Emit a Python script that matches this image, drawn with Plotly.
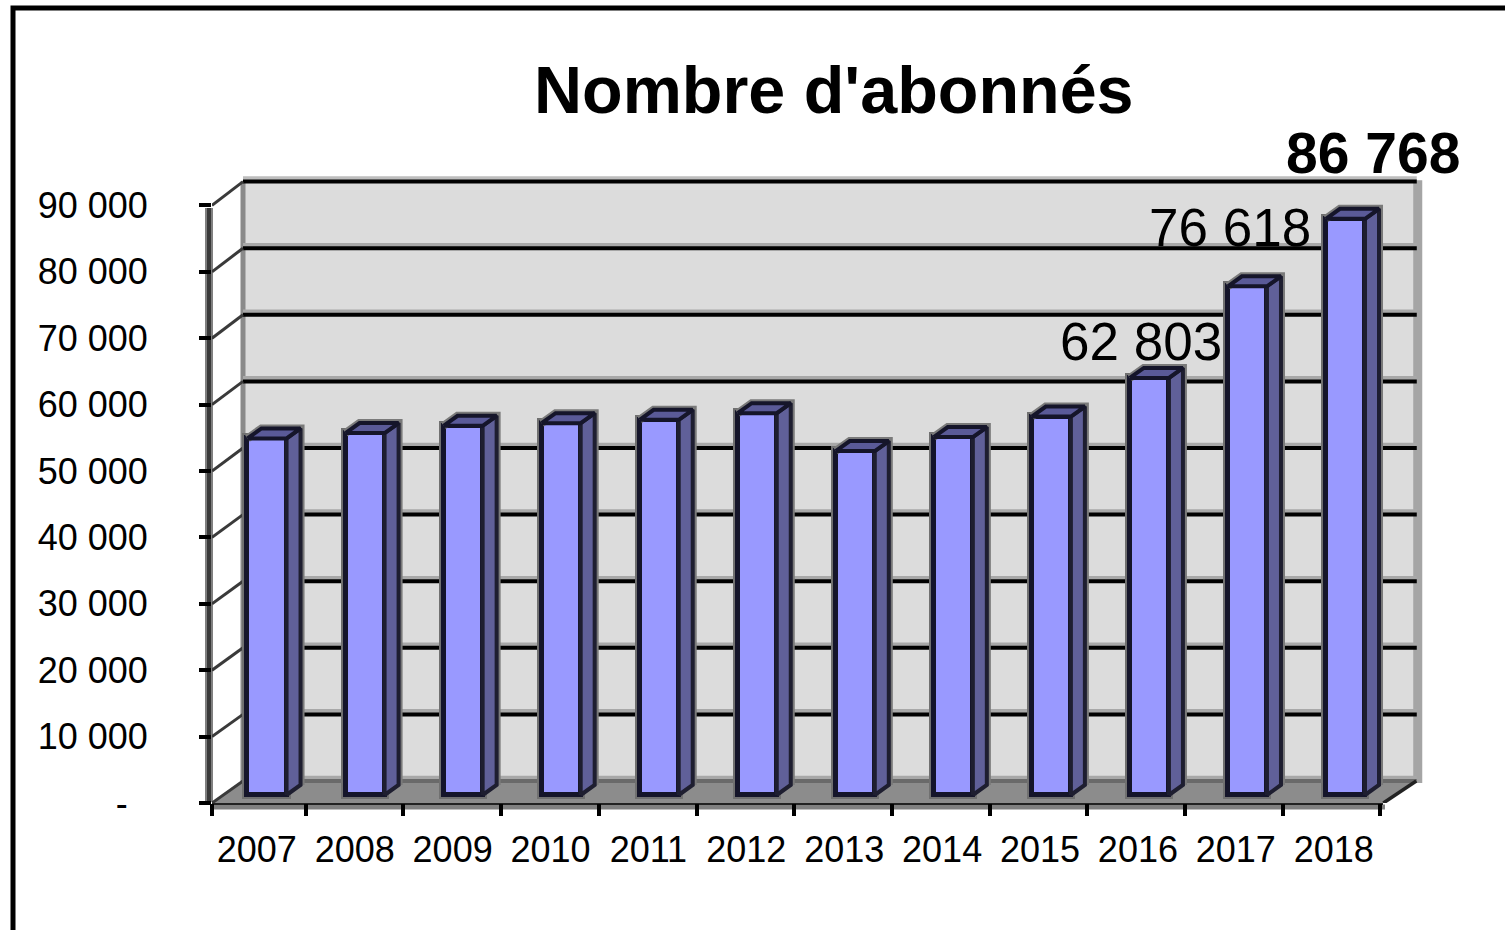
import plotly.graph_objects as go

years = ["2007","2008","2009","2010","2011","2012","2013","2014","2015","2016","2017","2018"]
values = [53700,54500,55600,56000,56500,57500,51800,53900,57000,62803,76618,86768]
y_ticks = [0,10000,20000,30000,40000,50000,60000,70000,80000,90000]
y_labels = ["-\u00a0\u00a0","10 000","20 000","30 000","40 000","50 000","60 000","70 000","80 000","90 000"]
labelled = [9,10,11]

# chart geometry
W, H = 1505, 930
L, R, T, B = 212, 1424, 170, 803
PX_X = 97.7            # px per category
PX_Y = 66.4 / 10000    # px per unit
X0 = 208
x_min = (L - X0) / PX_X
x_max = (R - X0) / PX_X
y_max = (B - T) / PX_Y
DX = 31 / PX_X         # depth of the box
DY = 22 / PX_Y
BACK_SCALE = 66.6 / 66.4
BDX = 14 / PX_X        # depth of a bar
BDY = 10 / PX_Y
BAR_OFF = 0.604
BAR_PITCH = 1.0035
LABEL_PITCH = 1.002
BAR_W = 0.40
BASE = 8 / PX_Y

px = lambda v: (v - L) / (R - L)
pyp = lambda v: (B - v) / (B - T)

def line(x0, y0, x1, y1, color, width, layer="below", xref="x", yref="y"):
    return dict(type="line", xref=xref, yref=yref, x0=x0, y0=y0, x1=x1, y1=y1,
                line=dict(color=color, width=width), layer=layer)

back = lambda v: v * BACK_SCALE + DY

xl, xr = x_min, 12.03
shapes = []
# back wall
shapes.append(dict(type="rect", xref="x", yref="y", x0=xl+DX, x1=xr+DX+0.02, y0=back(0), y1=back(90000),
                   fillcolor="#DCDCDC", line=dict(width=0), layer="below"))
# wall edges halo
shapes.append(line(xl+DX, back(0), xl+DX, back(90000), "#8A8A8A", 5))
shapes.append(line(xr+DX+0.035, back(0)-300, xr+DX+0.035, back(90000)+200, "#A5A5A5", 9))
# floor
shapes.append(dict(type="path", xref="x", yref="y",
                   path=f"M {xl} 0 L {xl+DX} {back(0)} L {xr+DX+0.02} {back(0)} L {xr} 0 Z",
                   fillcolor="#8C8C8C", line=dict(width=0), layer="below"))
# gridlines + diagonals
for v in y_ticks:
    shapes.append(line(xl+DX, back(v)+500, xr+DX+0.025, back(v)+500, "#BDBDBD" if v == 90000 else "#A8A8A8", 4))
    shapes.append(line(xl+DX, back(v), xr+DX+0.025, back(v), "#000000" if v else "#6A6A6A", 4))
    shapes.append(line(xl, v, xl+DX, back(v), "#3A3A3A", 3))
shapes.append(line(xr, 0, xr+DX+0.02, back(0), "#222222", 3.5))
# y axis wall edge, front floor strip: kept outside the plot clip through paper references
shapes.append(line(px(209), pyp(802), px(209), pyp(208), "#808080", 8, xref="paper", yref="paper"))
shapes.append(line(px(209), pyp(802), px(209), pyp(208), "#3A3A3A", 4, xref="paper", yref="paper"))
shapes.append(line(px(212), pyp(807), px(1385), pyp(807), "#808080", 5, xref="paper", yref="paper"))
shapes.append(line(px(212), pyp(803), px(1383), pyp(803), "#222222", 4, xref="paper", yref="paper"))
# outer frame of the picture
shapes.append(dict(type="path", xref="paper", yref="paper",
                   path=f"M {px(13)} {pyp(930)} L {px(13)} {pyp(8)} L {px(1505)} {pyp(8)}",
                   line=dict(color="#000000", width=5), layer="above"))

fig = go.Figure()
xs = [i * BAR_PITCH + BAR_OFF for i in range(len(years))]
ys = [v + BASE for v in values]

# grey halo under the front faces, then the faces
fig.add_trace(go.Bar(x=xs, y=values, base=BASE, width=BAR_W,
                     marker=dict(color="#707070", line=dict(color="#707070", width=9)),
                     showlegend=False, hoverinfo="skip"))
fig.add_trace(go.Bar(x=xs, y=values, base=BASE, width=BAR_W,
                     marker=dict(color="#9999FF", line=dict(color="#15152A", width=5)),
                     showlegend=False, hoverinfo="skip"))
fig.update_layout(barmode="overlay")

for x, v in zip(xs, ys):
    x1 = x + BAR_W / 2
    x0 = x - BAR_W / 2
    # halo round the outer edge of the side and top
    fig.add_trace(go.Scatter(x=[x0, x0+BDX, x1+BDX, x1+BDX],
                             y=[v, v+BDY, v+BDY, BASE+BDY],
                             mode="lines", line=dict(color="#7A7A7A", width=8),
                             showlegend=False, hoverinfo="skip"))
    # side face
    fig.add_trace(go.Scatter(x=[x1, x1+BDX, x1+BDX, x1, x1],
                             y=[BASE, BASE+BDY, v+BDY, v, BASE],
                             fill="toself", fillcolor="#606099", mode="lines",
                             line=dict(color="#1E1E30", width=4),
                             showlegend=False, hoverinfo="skip"))
    # top face
    fig.add_trace(go.Scatter(x=[x0, x0+BDX, x1+BDX, x1, x0],
                             y=[v, v+BDY, v+BDY, v, v],
                             fill="toself", fillcolor="#5A5A98", mode="lines",
                             line=dict(color="#15152A", width=4),
                             showlegend=False, hoverinfo="skip"))

annotations = [dict(x=0.5, y=1, xref="paper", yref="paper", yanchor="middle", showarrow=False,
                    text="<b>Nombre d'abonnés</b>", font=dict(size=66.5, color="#000000"),
                    xshift=(834 - (L + R) / 2), yshift=-(90 - T))]
offsets = {9: (-8.5, 36, 53, False), 10: (-17.5, 59, 53, False), 11: (28, 66, 57, True)}
for i in labelled:
    dx_, dy_, size, bold = offsets[i]
    t = f"{values[i]:,}".replace(",", " ")
    annotations.append(dict(x=xs[i], y=ys[i], xref="x", yref="y", showarrow=False, yanchor="middle",
                            text=f"<b>{t}</b>" if bold else t, xshift=dx_, yshift=dy_,
                            font=dict(size=size, color="#000000")))

fig.update_layout(
    width=W, height=H, autosize=False,
    margin=dict(l=L, r=W - R, t=T, b=H - B, pad=0),
    paper_bgcolor="#FFFFFF", plot_bgcolor="rgba(0,0,0,0)",
    font=dict(family="Liberation Sans, Arial, sans-serif", color="#000000", size=36),
    showlegend=False, bargap=0, shapes=shapes, annotations=annotations,
    xaxis=dict(range=[x_min, x_max], tickmode="array",
               tickvals=[i * LABEL_PITCH + 0.5 for i in range(len(years))], ticktext=years,
               ticklen=0, showgrid=False, zeroline=False, showline=False,
               ticklabelstandoff=22, tickfont=dict(size=36),
               minor=dict(tickmode="array", tickvals=[x_min] + list(range(1, 13)), ticks="outside",
                          ticklen=12, tickwidth=4, tickcolor="#000000", showgrid=False)),
    yaxis=dict(range=[0, y_max], tickmode="array", tickvals=y_ticks, ticktext=y_labels,
               ticks="outside", ticklen=12, tickwidth=4, tickcolor="#000000",
               showgrid=False, zeroline=False, showline=False,
               ticklabelstandoff=44, tickfont=dict(size=36)),
)
fig.write_html("out.html", config={"displayModeBar": False},
               post_script="document.body.style.margin='0';document.body.style.overflow='hidden';")
